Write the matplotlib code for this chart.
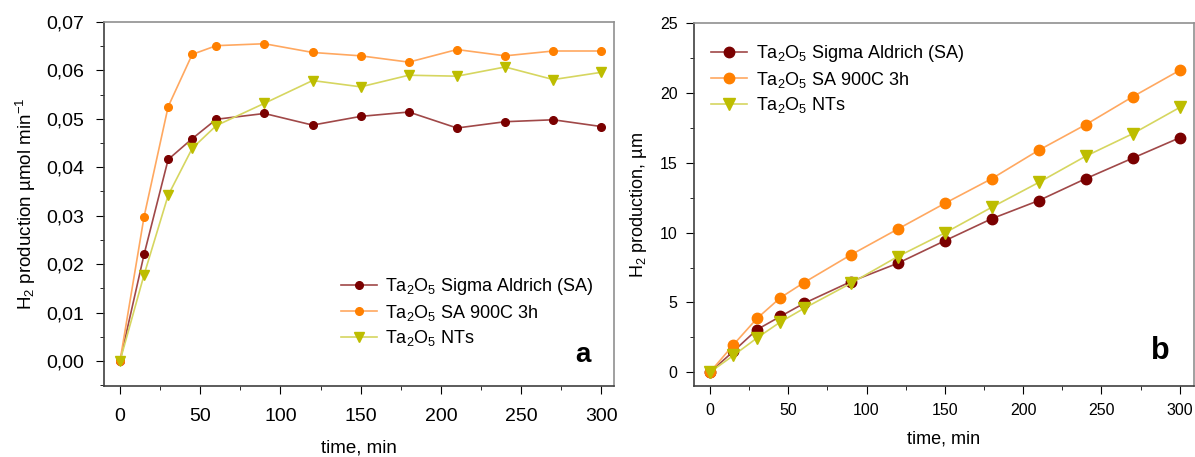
import matplotlib
matplotlib.use('Agg')
import matplotlib.pyplot as plt
from matplotlib.ticker import MultipleLocator, FuncFormatter

plt.rcParams['font.family'] = ['Liberation Sans', 'DejaVu Sans']
plt.rcParams['mathtext.fontset'] = 'custom'
plt.rcParams['mathtext.rm'] = 'Liberation Sans'
plt.rcParams['mathtext.it'] = 'Liberation Sans:italic'

# time points, min
time = [0, 15, 30, 45, 60, 90, 120, 150, 180, 210, 240, 270, 300]

labels = ['Ta$_2$O$_5$ Sigma Aldrich (SA)', 'Ta$_2$O$_5$ SA 900C 3h', 'Ta$_2$O$_5$ NTs']

# panel a: production rate
rate_sa = [0.0, 0.0220, 0.0416, 0.0459, 0.0499, 0.0511, 0.0487, 0.0505, 0.0514, 0.0481, 0.0494, 0.0498, 0.0484]
rate_sa900 = [0.0, 0.0298, 0.0525, 0.0633, 0.0651, 0.0655, 0.0637, 0.0630, 0.0617, 0.0643, 0.0630, 0.0640, 0.0640]
rate_nts = [0.0, 0.0178, 0.0342, 0.0439, 0.0486, 0.0532, 0.0579, 0.0566, 0.0590, 0.0588, 0.0607, 0.0581, 0.0596]

# panel b: cumulative production
cum_sa = [0.0, 1.5, 3.05, 4.0, 4.93, 6.49, 7.81, 9.42, 11.0, 12.3, 13.87, 15.34, 16.8]
cum_sa900 = [0.0, 1.97, 3.85, 5.34, 6.42, 8.41, 10.26, 12.1, 13.87, 15.91, 17.74, 19.74, 21.63]
cum_nts = [0.0, 1.2, 2.45, 3.6, 4.57, 6.37, 8.29, 9.98, 11.82, 13.6, 15.48, 17.09, 18.97]

marker_colors = ['#7a0000', '#ff8000', '#bdbd00']
line_colors = ['#a04848', '#ffa860', '#d6d660']
markers = ['o', 'o', 'v']

fig = plt.figure(figsize=(11.95, 4.57), dpi=100)
ax1 = fig.add_axes([0.087, 0.155, 0.427, 0.797])
ax2 = fig.add_axes([0.581, 0.155, 0.418, 0.794])

for ys, mc, lc, mk, lab in zip([rate_sa, rate_sa900, rate_nts], marker_colors, line_colors, markers, labels):
    ax1.plot(time, ys, color=lc, lw=1.2, marker=mk, markersize=5.5 if mk == 'o' else 6.5,
             markerfacecolor=mc, markeredgecolor=mc, label=lab)

for ys, mc, lc, mk, lab in zip([cum_sa, cum_sa900, cum_nts], marker_colors, line_colors, markers, labels):
    ax2.plot(time, ys, color=lc, lw=1.2, marker=mk, markersize=7.5 if mk == 'o' else 8,
             markerfacecolor=mc, markeredgecolor=mc, label=lab)

ax1.set_xlim(-10, 308)
ax1.set_ylim(-0.0052, 0.07)
ax1.xaxis.set_major_locator(MultipleLocator(50))
ax1.xaxis.set_minor_locator(MultipleLocator(25))
ax1.yaxis.set_major_locator(MultipleLocator(0.01))
ax1.yaxis.set_minor_locator(MultipleLocator(0.005))
ax1.yaxis.set_major_formatter(FuncFormatter(lambda v, p: ('%.2f' % v).replace('.', ',')))
ax1.tick_params(which='major', direction='out', length=6, labelsize=14, pad=8)
ax1.tick_params(axis='x', which='major', pad=10)
ax1.tick_params(which='minor', direction='out', length=3)
ax1.set_xlabel('time, min', fontsize=13.5, labelpad=10)
ax1.set_ylabel('H$_2$ production µmol min$^{-1}$', fontsize=13.5, labelpad=6)
ax1.legend(loc='lower right', bbox_to_anchor=(0.99, 0.06), frameon=False, fontsize=13,
           handlelength=2.0, labelspacing=0.3, handletextpad=0.4)
ax1.text(0.953, 0.05, 'a', transform=ax1.transAxes, fontsize=20, fontweight='bold',
         ha='right', va='bottom')

ax2.set_xlim(-10, 309)
ax2.set_ylim(-1, 25)
ax2.xaxis.set_major_locator(MultipleLocator(50))
ax2.xaxis.set_minor_locator(MultipleLocator(25))
ax2.yaxis.set_major_locator(MultipleLocator(5))
ax2.yaxis.set_minor_locator(MultipleLocator(2.5))
ax2.tick_params(which='major', direction='out', length=6, labelsize=11.5, pad=6)
ax2.tick_params(which='minor', direction='out', length=3)
ax2.set_xlabel('time, min', fontsize=13, labelpad=9)
ax2.set_ylabel('H$_2$ production, µm', fontsize=13, labelpad=8)
ax2.legend(loc='upper left', bbox_to_anchor=(0.0, 0.99), frameon=False, fontsize=13,
           handlelength=2.0, labelspacing=0.3, handletextpad=0.5)
ax2.text(0.952, 0.055, 'b', transform=ax2.transAxes, fontsize=22, fontweight='bold',
         ha='right', va='bottom')

for ax in (ax1, ax2):
    for s in ax.spines.values():
        s.set_color('#404040')
        s.set_linewidth(1.2)
    ax.spines['top'].set_color('#909090')
    ax.spines['right'].set_color('#909090')

plt.savefig('out.png', dpi=100)
plt.close()
